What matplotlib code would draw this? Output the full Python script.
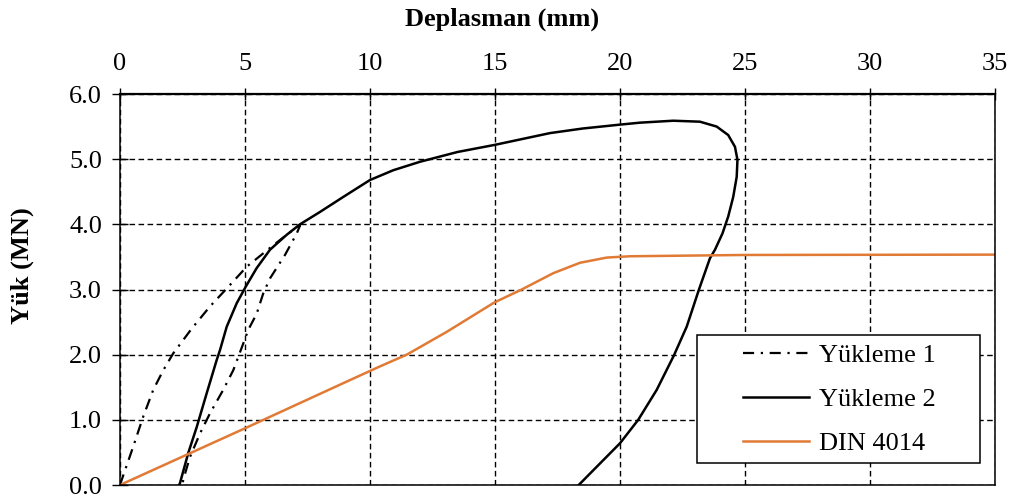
import matplotlib
matplotlib.use("Agg")
import matplotlib.pyplot as plt
from matplotlib.patches import Rectangle
from matplotlib.ticker import FormatStrFormatter

plt.rcParams['font.family'] = ['Liberation Serif', 'DejaVu Serif']

# Yükleme 1: loading branch then unloading branch (mm, MN)
y1_disp = [0, 0.07, 0.53, 0.93, 1.33, 1.73, 2.13, 2.87, 3.6, 4.33,
           5.07, 6.07, 6.67, 7.13, 7.2,
           7.07, 6.6, 6.0, 5.73, 5.47, 5.13, 4.93, 4.53, 4.13, 3.6,
           3.2, 2.8, 2.53, 2.5]
y1_load = [0, 0.08, 0.59, 1.05, 1.46, 1.76, 2.02, 2.40, 2.74, 3.04,
           3.35, 3.66, 3.84, 3.97, 3.98,
           3.86, 3.53, 3.17, 2.94, 2.63, 2.38, 2.17, 1.76, 1.46, 1.10,
           0.79, 0.43, 0.08, 0]

# Yükleme 2
y2_disp = [2.37, 2.4, 2.73, 3.07, 3.47, 3.87, 4.0, 4.27, 4.67, 5.04,
           5.47, 6.0, 6.67, 7.2, 8.0, 8.93, 10, 10.93, 12, 13.5,
           15, 17.2, 18.5, 20, 20.8, 22.13, 23.2, 23.87, 24.33, 24.6,
           24.7, 24.67, 24.53, 24.33, 24.1, 23.8, 23.6, 23.16, 22.67, 22.16,
           21.47, 20.73, 20, 19.2, 18.35]
y2_load = [0, 0.03, 0.49, 0.89, 1.41, 1.92, 2.07, 2.43, 2.79, 3.05,
           3.33, 3.61, 3.84, 4.0, 4.19, 4.42, 4.68, 4.83, 4.96, 5.11,
           5.22, 5.40, 5.47, 5.53, 5.56, 5.59, 5.575, 5.50, 5.37, 5.19,
           4.99, 4.73, 4.42, 4.12, 3.86, 3.61, 3.48, 3.0, 2.43, 1.99,
           1.46, 1.0, 0.64, 0.33, 0]

# DIN 4014 prediction
din_disp = [0, 5, 9.2, 10.4, 11.47, 13.07, 14.97, 16.07, 17.33, 18.4,
            19.47, 20.4, 25, 35]
din_load = [0, 0.87, 1.61, 1.82, 2.0, 2.35, 2.80, 3.0, 3.25, 3.41,
            3.49, 3.51, 3.53, 3.535]

x_ticks = [0, 5, 10, 15, 20, 25, 30, 35]
y_ticks = [0, 1, 2, 3, 4, 5, 6]

fig = plt.figure(figsize=(10.1, 5), dpi=100)
ax = fig.add_axes([0.1188, 0.03, 0.8663, 0.782])

ax.plot(y1_disp, y1_load, color='black', lw=1.6, dashes=(5, 3, 1, 3),
        label='Yükleme 1')
ax.plot(y2_disp, y2_load, color='black', lw=1.8, label='Yükleme 2')
ax.plot(din_disp, din_load, color='#E07A35', lw=1.8, label='DIN 4014')

ax.set_xlim(0, 35)
ax.set_ylim(0, 6)
ax.set_xticks(x_ticks)
ax.set_yticks(y_ticks)
ax.yaxis.set_major_formatter(FormatStrFormatter('%.1f'))
ax.xaxis.tick_top()
ax.tick_params(axis='x', direction='inout', length=9, width=1, pad=9,
               labelsize=19)
ax.tick_params(axis='y', direction='inout', length=12, width=1, pad=7,
               labelsize=19)
ax.grid(True, color='black', lw=1.0, linestyle=(0, (4, 2.5)))
for s in ax.spines.values():
    s.set_linewidth(1.1)
ax.spines['top'].set_linewidth(1.6)

fig.text(0.497, 0.962, 'Deplasman (mm)', ha='center', va='center',
         fontsize=19, fontweight='bold')
fig.text(0.022, 0.468, 'Yük (MN)', ha='center', va='center',
         rotation=90, fontsize=19, fontweight='bold')

# legend box drawn separately so the padding can differ per side
ax.add_patch(Rectangle((0.6594, 0.057), 0.3235, 0.3266, transform=ax.transAxes,
                       facecolor='white', edgecolor='black', lw=1.1, zorder=5))
leg = ax.legend(loc='center', bbox_to_anchor=(0.822, 0.219), frameon=False,
                fontsize=19, handlelength=2.5, handletextpad=0.4,
                labelspacing=0.78, borderpad=0)
leg.set_zorder(6)

fig.savefig('out.png', dpi=100)
